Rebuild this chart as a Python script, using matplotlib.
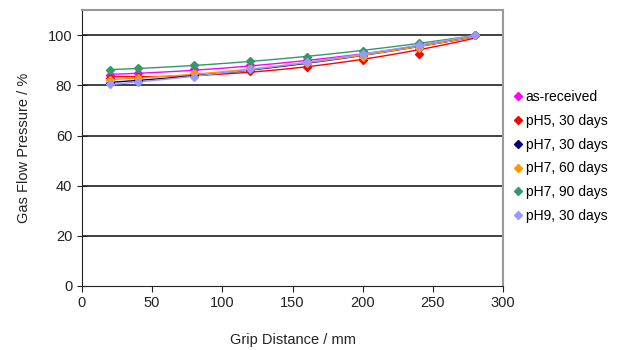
import numpy as np
import matplotlib.pyplot as plt
from matplotlib.lines import Line2D

plt.rcParams['font.family'] = ['Liberation Sans', 'DejaVu Sans']

# Grip distance (mm) and gas flow pressure (%)
grip_distance = [20, 40, 80, 120, 160, 200, 240, 280]
as_received = [84.0, 84.8, 86.5, 88.3, 90.0, 92.0, 95.0, 100]
ph5_30 = [83.0, 83.5, 84.5, 85.8, 87.5, 90.3, 92.5, 100]
ph7_30 = [81.0, 82.0, 84.0, 86.5, 89.0, 91.5, 95.0, 100]
ph7_60 = [82.0, 82.8, 85.0, 87.0, 89.0, 91.5, 95.0, 100]
ph7_90 = [86.2, 86.8, 88.0, 89.7, 91.5, 93.8, 96.8, 100]
ph9_30 = [80.5, 81.3, 83.3, 86.5, 89.3, 92.5, 96.0, 100]

labels = ["as-received", "pH5, 30 days", "pH7, 30 days",
          "pH7, 60 days", "pH7, 90 days", "pH9, 30 days"]
series = [as_received, ph5_30, ph7_30, ph7_60, ph7_90, ph9_30]
colors = ["#FF00FF", "#FF0000", "#000080", "#FF9900", "#339966", "#9999FF"]

fig = plt.figure(figsize=(6.25, 3.5), dpi=100)
ax = fig.add_axes([0.131, 0.183, 0.674, 0.788])

x = np.array(grip_distance)
xs = np.linspace(x.min(), x.max(), 100)
for vals, c in zip(series, colors):
    # Excel-style polynomial trendline plus diamond markers
    coef = np.polyfit(x, vals, 2)
    ax.plot(xs, np.polyval(coef, xs), color=c, lw=1.0, zorder=3)
    ax.plot(x, vals, linestyle="none", marker="D", ms=4, color=c, zorder=4)

ax.set_xlim(0, 300)
ax.set_ylim(0, 110)
ax.set_xticks(range(0, 301, 50))
ax.set_yticks(range(0, 101, 20))
for yv in range(20, 101, 20):
    ax.axhline(yv, color="#333333", lw=1.3, zorder=1)

ax.spines['top'].set_color("#999999")
ax.spines['right'].set_color("#999999")
ax.spines['top'].set_linewidth(1.5)
ax.spines['right'].set_linewidth(1.5)
ax.spines['left'].set_color("#222222")
ax.spines['bottom'].set_color("#222222")
ax.tick_params(axis='y', direction='inout', length=7, labelsize=10.5, colors="#222222")
ax.tick_params(axis='x', direction='out', length=4, labelsize=10.5, colors="#222222")

ax.set_xlabel("Grip Distance / mm", fontsize=10.5, color="#222222", labelpad=16)
ax.set_ylabel("Gas Flow Pressure / %", fontsize=10.5, color="#222222", labelpad=12)

handles = [Line2D([], [], linestyle="none", marker="D", ms=4, color=c) for c in colors]
fig.legend(handles, labels, loc="upper left", bbox_to_anchor=(0.808, 0.758),
           frameon=False, fontsize=10, handletextpad=0.1, handlelength=1.0,
           labelspacing=0.7, borderaxespad=0)

fig.savefig("out.png", dpi=100)
